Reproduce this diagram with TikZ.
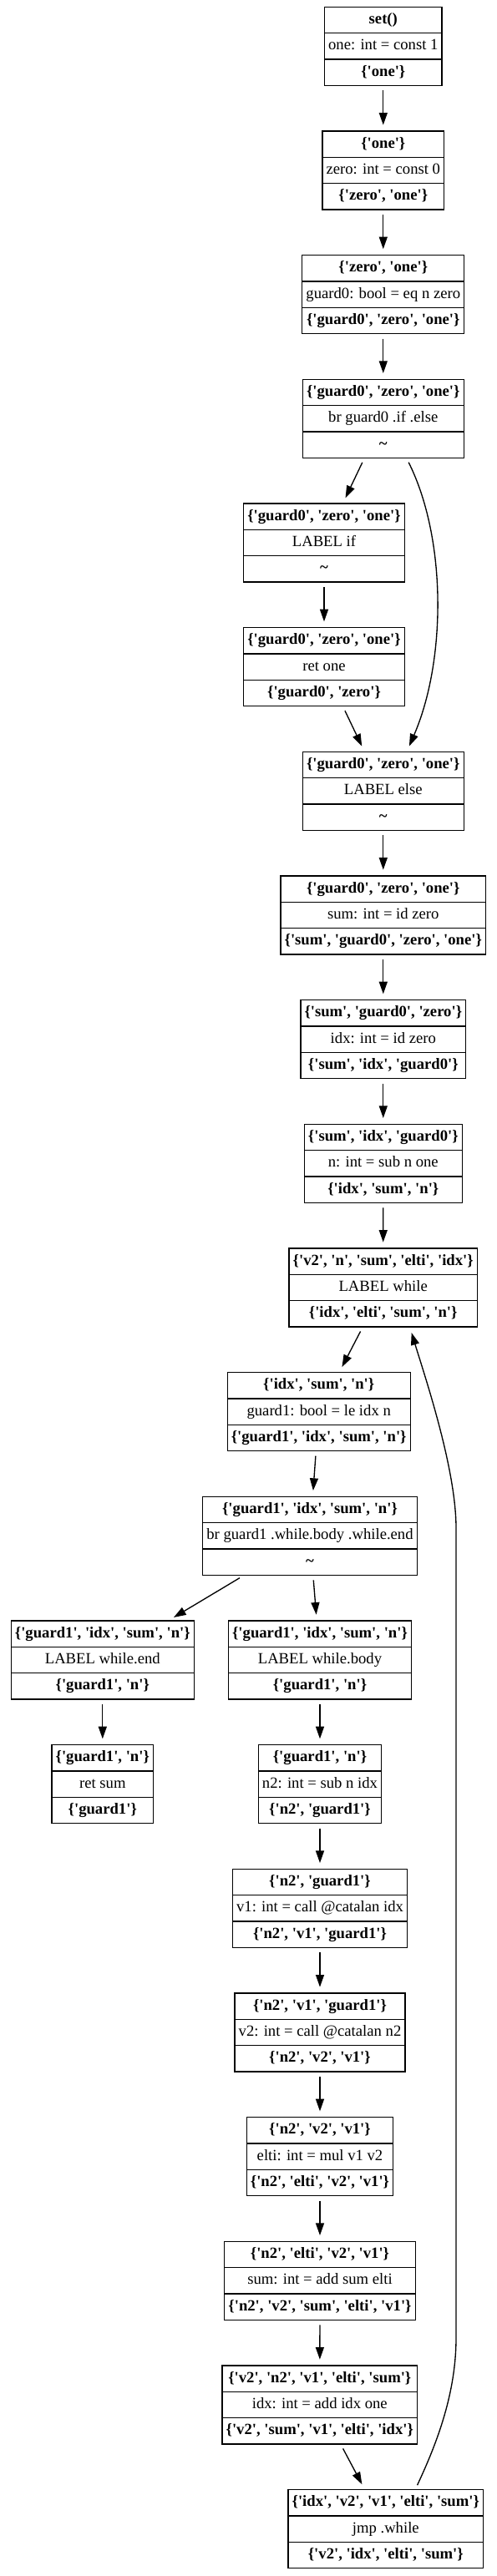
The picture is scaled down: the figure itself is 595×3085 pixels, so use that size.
\documentclass[tikz,border=0pt]{standalone}
\usepackage{fontspec}
\setmainfont{Liberation Serif}[Ligatures=TeXOff]
\usepackage{tikz}
\usetikzlibrary{shapes.multipart}
\usetikzlibrary{arrows.meta}
\usetikzlibrary{calc}

\newcommand{\blockrows}[3]{\strut\textbf{#1}\nodepart{two}\strut#2\nodepart{three}\strut\textbf{#3}}

\begin{document}
\begin{tikzpicture}[
    x=.75pt,y=-.75pt,
    >={Triangle[length=11pt,width=7.5pt]},
    block/.style={draw,line width=1pt,rectangle split,rectangle split parts=3,
        inner xsep=3.5pt,inner ysep=2.75pt,font=\fontsize{14}{17}\selectfont},
    flow link/.style={line width=1pt,shorten <=4pt,shorten >=5pt}
    ]
    \useasboundingbox (0,0) rectangle (595,3085);
    % nodes
    % entry
    \node [block] (init) at (458.8,55.3) {\blockrows{set()}{one: int = const 1}{\{'one'\}}};
    \node [block] (zero) at (458.8,204) {\blockrows{\{'one'\}}{zero: int = const 0}{\{'zero', 'one'\}}};
    \node [block] (guard0) at (458.8,352.6) {\blockrows{\{'zero', 'one'\}}{guard0: bool = eq n zero}{\{'guard0', 'zero', 'one'\}}};
    \node [block] (br0) at (458.8,501.3) {\blockrows{\{'guard0', 'zero', 'one'\}}{br guard0 .if .else}{\textasciitilde}};
    % if
    \node [block] (if) at (388,650) {\blockrows{\{'guard0', 'zero', 'one'\}}{LABEL if}{\textasciitilde}};
    \node [block] (retone) at (388,798.7) {\blockrows{\{'guard0', 'zero', 'one'\}}{ret one}{\{'guard0', 'zero'\}}};
    % else
    \node [block] (else) at (458.8,947.3) {\blockrows{\{'guard0', 'zero', 'one'\}}{LABEL else}{\textasciitilde}};
    \node [block] (sum0) at (458.8,1096) {\blockrows{\{'guard0', 'zero', 'one'\}}{sum: int = id zero}{\{'sum', 'guard0', 'zero', 'one'\}}};
    \node [block] (idx0) at (458.8,1244.7) {\blockrows{\{'sum', 'guard0', 'zero'\}}{idx: int = id zero}{\{'sum', 'idx', 'guard0'\}}};
    \node [block] (nsub) at (458.8,1393.3) {\blockrows{\{'sum', 'idx', 'guard0'\}}{n: int = sub n one}{\{'idx', 'sum', 'n'\}}};
    % while
    \node [block] (while) at (458.7,1542) {\blockrows{\{'v2', 'n', 'sum', 'elti', 'idx'\}}{LABEL while}{\{'idx', 'elti', 'sum', 'n'\}}};
    \node [block] (guard1) at (381.7,1690.7) {\blockrows{\{'idx', 'sum', 'n'\}}{guard1: bool = le idx n}{\{'guard1', 'idx', 'sum', 'n'\}}};
    \node [block] (br1) at (371,1839.3) {\blockrows{\{'guard1', 'idx', 'sum', 'n'\}}{br guard1 .while.body .while.end}{\textasciitilde}};
    % while.end
    \node [block] (wend) at (122.8,1988) {\blockrows{\{'guard1', 'idx', 'sum', 'n'\}}{LABEL while.end}{\{'guard1', 'n'\}}};
    \node [block] (retsum) at (122.8,2136.7) {\blockrows{\{'guard1', 'n'\}}{ret sum}{\{'guard1'\}}};
    % while.body
    \node [block] (wbody) at (383,1988) {\blockrows{\{'guard1', 'idx', 'sum', 'n'\}}{LABEL while.body}{\{'guard1', 'n'\}}};
    \node [block] (n2) at (383,2136.7) {\blockrows{\{'guard1', 'n'\}}{n2: int = sub n idx}{\{'n2', 'guard1'\}}};
    \node [block] (v1) at (383,2285.4) {\blockrows{\{'n2', 'guard1'\}}{v1: int = call @catalan idx}{\{'n2', 'v1', 'guard1'\}}};
    \node [block] (v2) at (383,2434) {\blockrows{\{'n2', 'v1', 'guard1'\}}{v2: int = call @catalan n2}{\{'n2', 'v2', 'v1'\}}};
    \node [block] (elti) at (383,2582.7) {\blockrows{\{'n2', 'v2', 'v1'\}}{elti: int = mul v1 v2}{\{'n2', 'elti', 'v2', 'v1'\}}};
    \node [block] (sumadd) at (383,2731.4) {\blockrows{\{'n2', 'elti', 'v2', 'v1'\}}{sum: int = add sum elti}{\{'n2', 'v2', 'sum', 'elti', 'v1'\}}};
    \node [block] (idxadd) at (382.8,2880) {\blockrows{\{'v2', 'n2', 'v1', 'elti', 'sum'\}}{idx: int = add idx one}{\{'v2', 'sum', 'v1', 'elti', 'idx'\}}};
    \node [block] (jmp) at (461.8,3028.7) {\blockrows{\{'idx', 'v2', 'v1', 'elti', 'sum'\}}{jmp .while}{\{'v2', 'idx', 'elti', 'sum'\}}};
    % arcs
    \foreach \a/\b in {init/zero,zero/guard0,guard0/br0,br0/if,if/retone,retone/else,else/sum0,sum0/idx0,idx0/nsub,nsub/while,
        while/guard1,guard1/br1,br1/wend,br1/wbody,wend/retsum,wbody/n2,n2/v1,v1/v2,v2/elti,elti/sumadd,sumadd/idxadd,idxadd/jmp} {
        \draw [flow link,->] (\a) -- (\b);
    }
    % br guard0 - else
    \draw [flow link,->] ($(br0.south)+(28,0)$) .. controls +(47.8,95.4) and +(47.3,-109.3) .. ($(else.north)+(28.5,0)$);
    % jmp - while
    \coordinate (backlow) at (546,2800);
    \coordinate (backhigh) at (546,1830);
    \draw [flow link,->] ($(jmp.north)+(35.5,0)$) .. controls +(22.7,-48.7) and +(0,70) .. (backlow)
        -- (backhigh) .. controls +(0,-70) and +(19.3,62.7) .. ($(while.south)+(32,0)$);
\end{tikzpicture}
\end{document}
